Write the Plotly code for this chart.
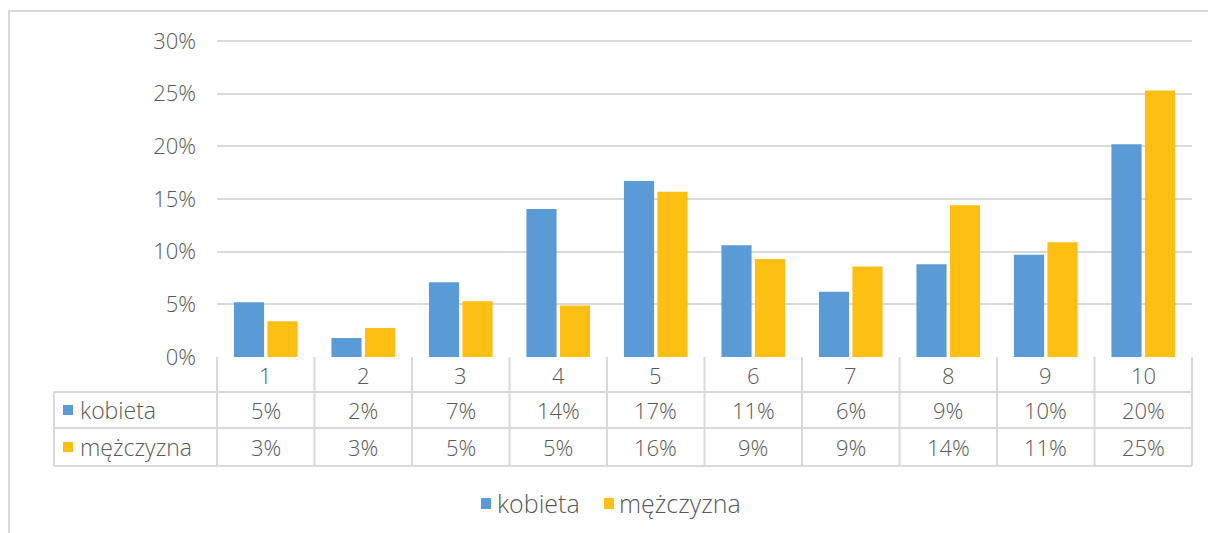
"""Bar chart with an Excel-style data table underneath."""

import plotly.graph_objects as go

CATEGORIES = ["1", "2", "3", "4", "5", "6", "7", "8", "9", "10"]
KOBIETA = [0.052, 0.018, 0.071, 0.1405, 0.167, 0.106, 0.062, 0.088, 0.097, 0.202]
MEZCZYZNA = [0.034, 0.0275, 0.053, 0.049, 0.157, 0.093, 0.086, 0.144, 0.109, 0.253]
SERIES_NAMES = ["kobieta", "mężczyzna"]
Y_TICKS = [0, 0.05, 0.10, 0.15, 0.20, 0.25, 0.30]
Y_TICK_LABELS = ["0%", "5%", "10%", "15%", "20%", "25%", "30%"]

BLUE = "#5b9bd5"
GOLD = "#fcbf12"
GRID = "#d9d9d9"
TEXT = "#595959"
FONT = "'Open Sans', sans-serif"

W, H = 1208, 533
L, R, T, B = 217, 1192, 41, 357  # plot area in pixels


def px_x(x):
    return (x - L) / (R - L)


def px_y(y):
    return (B - y) / (B - T)


fig = go.Figure()
fig.add_trace(go.Bar(x=list(range(len(CATEGORIES))), y=KOBIETA, name=SERIES_NAMES[0],
                     marker=dict(color=BLUE, line_width=0)))
fig.add_trace(go.Bar(x=list(range(len(CATEGORIES))), y=MEZCZYZNA, name=SERIES_NAMES[1],
                     marker=dict(color=GOLD, line_width=0)))

# data table rows (pixel rows)
row_top, row1, row2, row_bot = 357, 392, 428, 466
label_left = 54
line = dict(color=GRID, width=2)
shapes = []
for y in (row1, row2, row_bot):
    shapes.append(dict(type="line", xref="paper", yref="paper",
                       x0=px_x(label_left), x1=1, y0=px_y(y), y1=px_y(y), line=line))
n = len(CATEGORIES)
for i in range(n + 1):
    shapes.append(dict(type="line", xref="paper", yref="paper",
                       x0=i / n, x1=i / n, y0=px_y(row_top), y1=px_y(row_bot), line=line))
shapes.append(dict(type="line", xref="paper", yref="paper",
                   x0=px_x(label_left), x1=px_x(label_left),
                   y0=px_y(row1), y1=px_y(row_bot), line=line))
# top gridline (plotly drops the one sitting on the plot edge)
shapes.append(dict(type="line", xref="paper", yref="paper",
                   x0=0, x1=1, y0=1, y1=1, line=line, layer="below"))
# series keys in table
for color, (y0, y1) in zip((BLUE, GOLD), ((row1, row2), (row2, row_bot))):
    yc = (y0 + y1) / 2
    shapes.append(dict(type="rect", xref="paper", yref="paper",
                       x0=px_x(63), x1=px_x(73), y0=px_y(yc - 5), y1=px_y(yc + 5),
                       fillcolor=color, line_width=0))
# legend keys below the table
for color, x0 in zip((BLUE, GOLD), (481, 604)):
    shapes.append(dict(type="rect", xref="paper", yref="paper",
                       x0=px_x(x0), x1=px_x(x0 + 10), y0=px_y(498), y1=px_y(509),
                       fillcolor=color, line_width=0))
# outer chart border
shapes.append(dict(type="rect", xref="paper", yref="paper",
                   x0=px_x(9), x1=px_x(1230), y0=px_y(11), y1=px_y(560),
                   line=line, fillcolor="rgba(0,0,0,0)", layer="below"))

annotations = []
mid = dict(showarrow=False, yanchor="middle", yref="paper")
for i, cat in enumerate(CATEGORIES):
    annotations.append(dict(x=i, xref="x", y=px_y((row_top + row1) / 2), text=cat, **mid))
    annotations.append(dict(x=i, xref="x", y=px_y((row1 + row2) / 2),
                            text=f"{round(KOBIETA[i] * 100)}%", **mid))
    annotations.append(dict(x=i, xref="x", y=px_y((row2 + row_bot) / 2),
                            text=f"{round(MEZCZYZNA[i] * 100)}%", **mid))
for name, (y0, y1) in zip(SERIES_NAMES, ((row1, row2), (row2, row_bot))):
    annotations.append(dict(x=px_x(78), xref="paper", y=px_y((y0 + y1) / 2),
                            text=name, xanchor="left", font=dict(size=23), **mid))
for name, x0 in zip(SERIES_NAMES, (495, 617)):
    annotations.append(dict(x=px_x(x0), xref="paper", y=px_y(503),
                            text=name, xanchor="left", font=dict(size=25), **mid))

fig.update_layout(
    width=W, height=H,
    margin=dict(l=L, r=W - R, t=T, b=H - B, autoexpand=False),
    paper_bgcolor="white", plot_bgcolor="white",
    font=dict(family=FONT, size=22, color=TEXT, weight=300),
    barmode="group", bargap=0.313, bargroupgap=0.1,
    xaxis=dict(range=[-0.5, n - 0.5], showticklabels=False, showgrid=False,
               zeroline=False, showline=False, fixedrange=True, automargin=False),
    yaxis=dict(range=[0, 0.30], tickvals=Y_TICKS, ticktext=Y_TICK_LABELS,
               showgrid=True, gridcolor=GRID, gridwidth=2, zeroline=False,
               showline=False, ticks="", ticklabelstandoff=20, automargin=False),
    shapes=shapes,
    annotations=annotations,
    showlegend=False,
)

# the page body has a default 8px margin; drop it so the figure sits at 0,0
fig.write_html("out.html", config={"displayModeBar": False},
               post_script="document.body.style.margin='0';")
